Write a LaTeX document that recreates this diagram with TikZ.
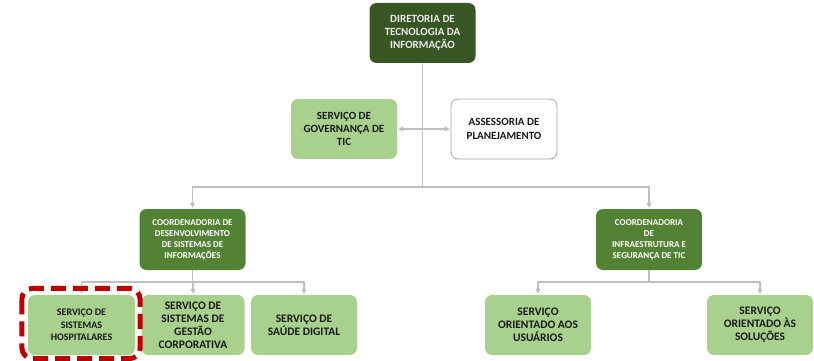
\documentclass[tikz,border=0pt]{standalone}
\usepackage{fontspec}
\setmainfont{Carlito}
\usetikzlibrary{arrows.meta}
\definecolor{verdeescuro}{HTML}{375623}
\definecolor{verdemedio}{HTML}{548235}
\definecolor{verdeclaro}{HTML}{A9D18E}
\definecolor{cinzalinha}{HTML}{BFBFBF}
\definecolor{cinzaborda}{HTML}{A6A6A6}
\definecolor{vermelho}{HTML}{C00000}
\tikzset{
  caixa/.style={rectangle, rounded corners=7pt, minimum width=106pt, minimum height=60pt, align=center, inner sep=2pt},
  diretoria/.style={caixa, fill=verdeescuro, text=white!92!black, font=\bfseries\fontsize{11}{13.3}\selectfont},
  coordenadoria/.style={caixa, minimum height=61pt, fill=verdemedio, text=white, font=\bfseries\fontsize{9}{11}\selectfont},
  servico/.style={caixa, fill=verdeclaro, text=black!90, font=\bfseries\fontsize{11.5}{13}\selectfont},
  assessoria/.style={caixa, fill=white, draw=cinzaborda, line width=0.8pt, text=black!90, font=\bfseries\fontsize{11}{13.3}\selectfont},
  ligacao/.style={cinzalinha, line width=1.2pt},
  seta/.style={ligacao, -{Triangle[length=5pt, width=5pt]}, shorten >=1pt},
  destaque/.style={vermelho, line width=5pt, dash pattern=on 15pt off 7pt, rounded corners=11pt},
}

\begin{document}
\begin{tikzpicture}[x=1pt, y=-1pt]
  \useasboundingbox (0,0) rectangle (814,361);

  % ---------------- diretoria e assessorias ----------------
  \node[diretoria] (dti) at (422.5,33) {DIRETORIA DE\\TECNOLOGIA DA\\INFORMAÇÃO};
  \node[servico, font=\bfseries\fontsize{11}{13.3}\selectfont] (gov) at (344,129) {SERVIÇO DE\\GOVERNANÇA DE\\TIC};
  \node[assessoria] (asp) at (504,129) {ASSESSORIA DE\\PLANEJAMENTO};

  % ---------------- coordenadorias ----------------
  \node[coordenadoria] (cdes) at (192.5,239.5) {COORDENADORIA DE\\DESENVOLVIMENTO\\DE SISTEMAS DE\\INFORMAÇÕES};
  \node[coordenadoria] (cinf) at (649,239.5) {COORDENADORIA\\DE\\INFRAESTRUTURA E\\SEGURANÇA DE TIC};

  % ---------------- serviços ----------------
  \node[servico, font=\bfseries\fontsize{10}{12.5}\selectfont, minimum width=107pt] (hosp) at (81.5,325) {SERVIÇO DE\\SISTEMAS\\HOSPITALARES};
  \node[servico, minimum width=103pt] (gest) at (193,325) {SERVIÇO DE\\SISTEMAS DE\\GESTÃO\\CORPORATIVA};
  \node[servico] (saude) at (304,325) {SERVIÇO DE\\SAÚDE DIGITAL};
  \node[servico] (usu) at (538,325) {SERVIÇO\\ORIENTADO AOS\\USUÁRIOS};
  \node[servico] (sol) at (760,325) {SERVIÇO\\ORIENTADO ÀS\\SOLUÇÕES};

  % barramentos horizontais
  \coordinate (barra) at (0,187);
  \coordinate (barrab) at (0,282);

  % ---------------- ligações ----------------
  \draw[ligacao] (dti.south) -- (dti.south |- barra);
  \draw[seta] (dti.south |- barra) -| (cdes.north);
  \draw[seta] (dti.south |- barra) -| (cinf.north);
  \draw[ligacao, {Triangle[length=5pt, width=5pt]}-{Triangle[length=5pt, width=5pt]}, shorten <=1pt, shorten >=1pt] (gov.east) -- (asp.west);

  \draw[ligacao] (cdes.south) -- (cdes.south |- barrab);
  \foreach \filho in {hosp, gest, saude} { \draw[seta] (cdes.south |- barrab) -| (\filho.north); }
  \draw[ligacao] (cinf.south) -- (cinf.south |- barrab);
  \foreach \filho in {usu, sol} { \draw[seta] (cinf.south |- barrab) -| (\filho.north); }

  % destaque do serviço de sistemas hospitalares
  \draw[destaque] ([xshift=-6pt, yshift=6.5pt]hosp.north west) rectangle ([xshift=5pt, yshift=-3.5pt]hosp.south east);
\end{tikzpicture}
\end{document}
